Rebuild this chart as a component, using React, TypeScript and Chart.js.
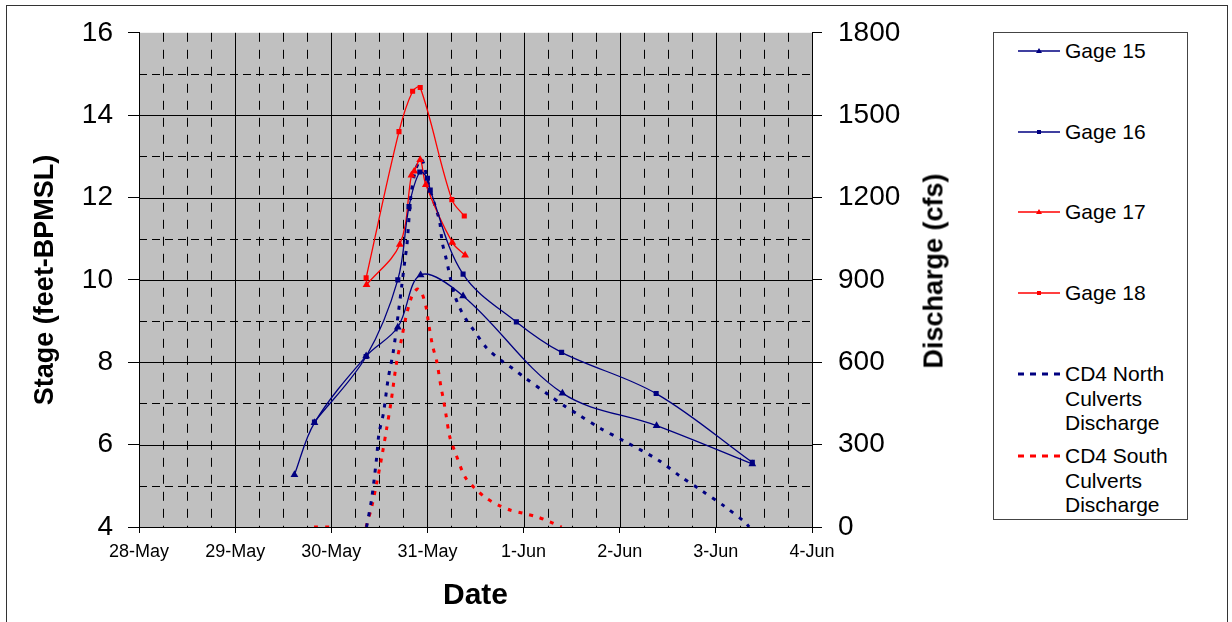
import React, { useEffect, useRef } from "react";
import { Chart, registerables } from "chart.js";

Chart.register(...registerables);

// ---- Data (x values are hours after 28-May 00:00) ----
const dayLabels = ["28-May", "29-May", "30-May", "31-May", "1-Jun", "2-Jun", "3-Jun", "4-Jun"];

const gage15Hours = [38.8, 43.8, 56.7, 64.6, 70.3, 80.9, 105.7, 129.2, 153.1];
const gage15Stage = [5.27, 6.53, 8.15, 8.85, 10.12, 9.61, 7.25, 6.46, 5.53];

const gage16Hours = [43.8, 56.7, 64.6, 67.4, 70.1, 72.0, 72.7, 80.9, 94.2, 105.5, 129.1, 153.1];
const gage16Stage = [6.55, 8.14, 10.0, 11.78, 12.62, 12.47, 12.18, 10.14, 8.98, 8.24, 7.24, 5.57];

const gage17Hours = [56.8, 65.1, 68.0, 68.7, 70.2, 71.6, 78.2, 81.4];
const gage17Stage = [9.88, 10.86, 12.54, 12.64, 12.92, 12.31, 10.91, 10.6];

const gage18Hours = [56.7, 64.9, 68.3, 70.2, 78.1, 81.2];
const gage18Stage = [10.05, 13.6, 14.58, 14.67, 11.95, 11.55];

const northHours = [56.8, 58.1, 59.3, 59.9, 61.0, 62.2, 63.5, 64.7, 65.6, 66.4, 66.9, 67.9, 68.9, 69.6, 70.4, 71.1, 72.1, 73.6, 75.0, 75.7, 76.6, 77.2, 77.9, 78.9, 80.1, 81.6, 83.7, 86.8, 90.9, 93.4, 96.3, 101.8, 106.5, 109.4, 115.1, 121.1, 129.5, 135.0, 140.6, 146.1, 151.4, 152.3];
const northCfs = [0, 105, 250, 340, 413, 540, 641, 775, 880, 974, 1029, 1210, 1293, 1322, 1340, 1322, 1257, 1184, 1116, 1036, 982, 942, 895, 840, 797, 757, 714, 652, 601, 576, 544, 486, 438, 412, 360, 313, 245, 186, 131, 76, 16, 0];

const southHours = [43.7, 47.7, 52.0, 56.7, 58.1, 59.3, 60.6, 61.8, 62.9, 64.3, 65.6, 66.6, 68.1, 69.5, 70.6, 71.8, 72.2, 73.3, 74.3, 75.4, 76.0, 76.6, 77.6, 78.9, 81.4, 83.9, 86.8, 89.7, 92.6, 95.9, 99.3, 102.6, 105.5];
const southCfs = [0, 0, null, 0, 74, 158, 255, 357, 454, 599, 689, 762, 840, 867, 852, 792, 750, 659, 605, 508, 464, 412, 327, 273, 182, 140, 104, 80, 62, 50, 37, 19, 0];

const seriesLabels = ["Gage 15", "Gage 16", "Gage 17", "Gage 18", "CD4 North Culverts Discharge", "CD4 South Culverts Discharge"];
const legendLines = [["Gage 15"], ["Gage 16"], ["Gage 17"], ["Gage 18"], ["CD4 North", "Culverts", "Discharge"], ["CD4 South", "Culverts", "Discharge"]];

const NAVY = "#000080";
const RED = "#FF0000";

const toPts = (xs: number[], ys: (number | null)[]) => xs.map((x, i) => ({ x, y: ys[i] }));

const gridPlugin = {
  id: "bgGrid",
  beforeDraw(chart: any) {
    const { ctx, chartArea: a, scales } = chart;
    const xs = scales.x;
    const ys = scales.y;
    ctx.save();
    ctx.fillStyle = "#C0C0C0";
    ctx.fillRect(a.left, a.top, a.right - a.left, a.bottom - a.top);
    ctx.strokeStyle = "#000";
    ctx.lineWidth = 1;
    ctx.setLineDash([9, 8]);
    for (let h = 6; h < 168; h += 6) {
      if (h % 24 === 0) continue;
      const x = Math.round(xs.getPixelForValue(h)) + 0.5;
      ctx.beginPath();
      ctx.moveTo(x, a.top);
      ctx.lineTo(x, a.bottom);
      ctx.stroke();
    }
    ctx.setLineDash([8, 5]);
    for (let v = 5; v < 16; v += 2) {
      const y = Math.round(ys.getPixelForValue(v)) + 0.5;
      ctx.beginPath();
      ctx.moveTo(a.left, y);
      ctx.lineTo(a.right, y);
      ctx.stroke();
    }
    ctx.setLineDash([]);
    for (let h = 24; h < 168; h += 24) {
      const x = Math.round(xs.getPixelForValue(h)) + 0.5;
      ctx.beginPath();
      ctx.moveTo(x, a.top);
      ctx.lineTo(x, a.bottom);
      ctx.stroke();
    }
    for (let v = 6; v < 16; v += 2) {
      const y = Math.round(ys.getPixelForValue(v)) + 0.5;
      ctx.beginPath();
      ctx.moveTo(a.left, y);
      ctx.lineTo(a.right, y);
      ctx.stroke();
    }
    ctx.restore();
  },
};

function LegendSample({ color, dashed, marker }: { color: string; dashed?: boolean; marker?: string }) {
  return (
    <svg width={42} height={10} style={{ display: "block" }}>
      <line x1={0} y1={5} x2={42} y2={5} stroke={color} strokeWidth={dashed ? 3 : 1.3} strokeDasharray={dashed ? "6 6" : undefined} />
      {marker === "tri" && <polygon points="21,2 24,7 18,7" fill={color} />}
      {marker === "rect" && <rect x={19} y={3} width={4} height={4} fill={color} />}
    </svg>
  );
}

export default function App() {
  const ref = useRef<HTMLCanvasElement | null>(null);

  useEffect(() => {
    if (!ref.current) return;
    Chart.defaults.font.family = "Arial, 'Liberation Sans', sans-serif";
    Chart.defaults.color = "#000";
    const lineBase = { borderWidth: 1.3, tension: 0.35, yAxisID: "y", pointBorderWidth: 0 };
    const chart = new Chart(ref.current, {
      type: "line",
      data: {
        datasets: [
          { ...lineBase, label: seriesLabels[0], data: toPts(gage15Hours, gage15Stage), borderColor: NAVY, backgroundColor: NAVY, pointStyle: "triangle", pointRadius: 4.5 },
          { ...lineBase, label: seriesLabels[1], data: toPts(gage16Hours, gage16Stage), borderColor: NAVY, backgroundColor: NAVY, pointStyle: "rect", pointRadius: 3.6 },
          { ...lineBase, label: seriesLabels[2], data: toPts(gage17Hours, gage17Stage), borderColor: RED, backgroundColor: RED, pointStyle: "triangle", pointRadius: 4.5 },
          { ...lineBase, label: seriesLabels[3], data: toPts(gage18Hours, gage18Stage), borderColor: RED, backgroundColor: RED, pointStyle: "rect", pointRadius: 3.6 },
          { label: seriesLabels[4], data: toPts(northHours, northCfs), yAxisID: "y1", borderColor: NAVY, borderWidth: 3, borderDash: [4, 7], pointRadius: 0, tension: 0.3 },
          { label: seriesLabels[5], data: toPts(southHours, southCfs), yAxisID: "y1", borderColor: RED, borderWidth: 3, borderDash: [4, 7], pointRadius: 0, tension: 0.3, spanGaps: false },
        ],
      } as any,
      options: {
        animation: false,
        responsive: false,
        maintainAspectRatio: false,
        layout: { padding: { left: 25, right: 300, top: 30, bottom: 4 } },
        plugins: { legend: { display: false }, tooltip: { enabled: false } },
        scales: {
          x: {
            type: "linear",
            min: 0,
            max: 168,
            afterFit: (s: any) => { s.height = 91; },
            ticks: {
              stepSize: 24,
              autoSkip: false,
              maxRotation: 0,
              padding: 8,
              font: { size: 18 },
              callback: (v: any) => dayLabels[Math.round(Number(v) / 24)] ?? "",
            },
            grid: { drawOnChartArea: false, tickLength: 6, color: "#000" },
            border: { color: "#000", width: 1 },
            title: { display: true, text: "Date", font: { size: 30, weight: "bold" }, padding: { top: 0, bottom: 4 } },
          },
          y: {
            position: "left",
            min: 4,
            max: 16,
            afterFit: (s: any) => { s.width = 114; },
            ticks: { stepSize: 2, padding: 15, font: { size: 28 }, callback: (v: any) => String(v) },
            grid: { drawOnChartArea: false, tickLength: 11, color: "#000" },
            border: { color: "#000", width: 1 },
            title: { display: true, text: "Stage (feet-BPMSL)", font: { size: 27, weight: "bold" }, padding: { top: 4, bottom: 4 } },
          },
          y1: {
            position: "right",
            min: 0,
            max: 1800,
            afterFit: (s: any) => { s.width = 120; },
            ticks: { stepSize: 300, padding: 16, font: { size: 28 }, callback: (v: any) => String(v) },
            grid: { drawOnChartArea: false, tickLength: 10, color: "#000" },
            border: { color: "#000", width: 1 },
            title: { display: false },
          },
        },
      } as any,
      plugins: [gridPlugin],
    });
    return () => chart.destroy();
  }, []);

  const legendCenters = [51, 132, 212, 293, 374, 456];
  const samples = [
    { color: NAVY, marker: "tri" },
    { color: NAVY, marker: "rect" },
    { color: RED, marker: "tri" },
    { color: RED, marker: "rect" },
    { color: NAVY, dashed: true },
    { color: RED, dashed: true },
  ];

  return (
    <div style={{ position: "absolute", left: 0, top: 0, width: 1232, height: 622, overflow: "hidden", background: "#fff", fontFamily: "Arial, 'Liberation Sans', sans-serif" }}>
      <div style={{ position: "absolute", left: 6, top: 5, width: 1220, height: 700, border: "1px solid #333" }} />
      <canvas ref={ref} width={1232} height={622} style={{ position: "absolute", left: 0, top: 0 }} />
      <div
        style={{
          position: "absolute",
          left: 934,
          top: 271,
          transform: "translate(-50%, -50%) rotate(-90deg)",
          fontSize: 27,
          fontWeight: "bold",
          whiteSpace: "nowrap",
          color: "#000",
        }}
      >
        Discharge (cfs)
      </div>
      <div style={{ position: "absolute", left: 993, top: 32, width: 193, height: 486, border: "1px solid #444", background: "#fff" }}>
        {legendLines.map((lines, i) => (
          <div key={i} style={{ position: "absolute", left: 0, top: legendCenters[i] - 33 - 12 }}>
            <div style={{ position: "absolute", left: 24, top: 7 }}>
              <LegendSample {...(samples[i] as any)} />
            </div>
            <div style={{ position: "absolute", left: 71, top: 0, fontSize: 21, lineHeight: "24.5px", whiteSpace: "nowrap", color: "#000" }}>
              {lines.map((t, j) => (
                <div key={j}>{t}</div>
              ))}
            </div>
          </div>
        ))}
      </div>
    </div>
  );
}
